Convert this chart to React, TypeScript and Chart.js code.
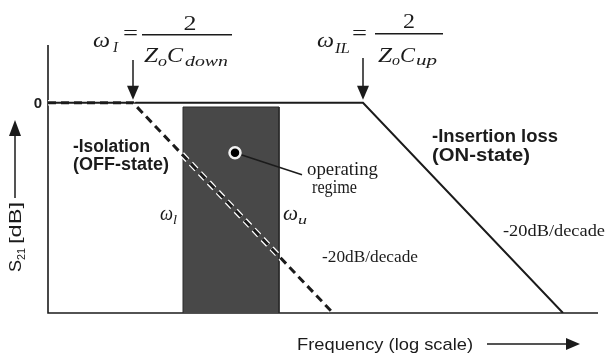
import React, { useEffect, useRef } from "react";
import { Chart, registerables } from "chart.js";

Chart.register(...registerables);

// Axis extents: x in decades of frequency (log scale), y in dB
const X_MIN = 0;
const X_MAX = 5.5;
const Y_MIN = -40;
const Y_MAX = 11;

// Isolation (OFF-state): flat at 0 dB up to ωI, then -20 dB/decade
const isolationX = [0, 0.85, 2.85];
const isolationDb = [0, 0, -40];

// Insertion loss (ON-state): flat at 0 dB up to ωIL, then -20 dB/decade
const insertionX = [0, 3.15, 5.15];
const insertionDb = [0, 0, -40];

// Operating regime band between ωl and ωu
const regimeX = [1.35, 1.35, 2.31, 2.31];
const regimeDb = [-40, -0.8, -0.8, -40];

// Operating point marker and its leader line towards the label
const markerX = [1.87];
const markerDb = [-9.5];
const leaderX = [1.87, 2.54];
const leaderDb = [-9.5, -13.7];

const SERIF = "'Liberation Serif', 'DejaVu Serif', serif";
const SANS = "'Liberation Sans', Arial, sans-serif";
const INK = "#1b1b1b";

const pts = (xs: number[], ys: number[]) => xs.map((x, i) => ({ x, y: ys[i] }));

function put(
  ctx: CanvasRenderingContext2D,
  text: string,
  x: number,
  y: number,
  font: string,
  width?: number,
  align: "left" | "center" | "right" = "left"
) {
  ctx.font = font;
  ctx.textAlign = "left";
  ctx.textBaseline = "alphabetic";
  const m = ctx.measureText(text).width;
  const sx = width ? width / m : 1;
  const w = m * sx;
  const left = align === "center" ? x - w / 2 : align === "right" ? x - w : x;
  ctx.save();
  ctx.translate(left, y);
  ctx.scale(sx, 1);
  ctx.fillText(text, 0, 0);
  ctx.restore();
}

function arrowDown(ctx: CanvasRenderingContext2D, x: number, y0: number, tip: number) {
  ctx.beginPath();
  ctx.moveTo(x, y0);
  ctx.lineTo(x, tip - 12);
  ctx.stroke();
  ctx.beginPath();
  ctx.moveTo(x - 6, tip - 14);
  ctx.lineTo(x + 6, tip - 14);
  ctx.lineTo(x, tip);
  ctx.closePath();
  ctx.fill();
}

const annotate = {
  id: "annotate",
  beforeDatasetsDraw(chart: any) {
    const { ctx, chartArea } = chart;
    ctx.save();
    ctx.strokeStyle = INK;
    ctx.lineWidth = 1.6;
    ctx.beginPath();
    ctx.moveTo(chartArea.left, chartArea.top);
    ctx.lineTo(chartArea.left, chartArea.bottom);
    ctx.lineTo(chartArea.right, chartArea.bottom);
    ctx.stroke();
    ctx.restore();
  },
  afterDatasetsDraw(chart: any) {
    const { ctx, chartArea } = chart;
    const xs = chart.scales.x;
    const ys = chart.scales.y;
    const zeroY = ys.getPixelForValue(0);
    const a1 = xs.getPixelForValue(isolationX[1]);
    const a2 = xs.getPixelForValue(insertionX[1]);
    const wl = xs.getPixelForValue(regimeX[0]);
    const wu = xs.getPixelForValue(regimeX[2]);
    ctx.save();
    ctx.fillStyle = INK;
    ctx.strokeStyle = INK;

    // corner-frequency arrows
    ctx.lineWidth = 1.5;
    arrowDown(ctx, a1, 60, zeroY - 3);
    arrowDown(ctx, a2, 58, zeroY - 3);

    // ωI = 2 / (Zo Cdown)
    put(ctx, "ω", a1 - 40, 47, `italic 22px ${SERIF}`, 17);
    put(ctx, "I", a1 - 20, 52, `italic 14px ${SERIF}`, 5);
    ctx.font = `20px ${SERIF}`;
    ctx.textBaseline = "middle";
    put(ctx, "=", a1 - 10, 40, `20px ${SERIF}`, 15);
    ctx.fillRect(a1 + 9, 34, 90, 1.5);
    put(ctx, "2", a1 + 57, 30, `20px ${SERIF}`, 13, "center");
    put(ctx, "Z", a1 + 11, 62, `italic 20px ${SERIF}`, 14);
    put(ctx, "o", a1 + 25, 66, `italic 15px ${SERIF}`, 9);
    put(ctx, "C", a1 + 34, 62, `italic 20px ${SERIF}`, 16);
    put(ctx, "down", a1 + 52, 66, `italic 15px ${SERIF}`, 43);

    // ωIL = 2 / (Zo Cup)
    put(ctx, "ω", a2 - 46, 47, `italic 22px ${SERIF}`, 17);
    put(ctx, "IL", a2 - 28, 53, `italic 14px ${SERIF}`, 15);
    put(ctx, "=", a2 - 11, 40, `20px ${SERIF}`, 15);
    ctx.fillRect(a2 + 12, 33, 68, 1.5);
    put(ctx, "2", a2 + 46, 28, `20px ${SERIF}`, 12, "center");
    put(ctx, "Z", a2 + 15, 62, `italic 20px ${SERIF}`, 14);
    put(ctx, "o", a2 + 29, 65, `italic 15px ${SERIF}`, 8);
    put(ctx, "C", a2 + 37, 62, `italic 20px ${SERIF}`, 15);
    put(ctx, "up", a2 + 53, 65, `italic 15px ${SERIF}`, 21);

    // 0 dB tick label
    put(ctx, "0", chartArea.left - 6, zeroY + 5.5, `bold 15px ${SANS}`, undefined, "right");

    // y-axis title with upward arrow
    ctx.save();
    ctx.translate(21, 236);
    ctx.rotate(-Math.PI / 2);
    put(ctx, "S", -36, 0, `17px ${SANS}`, 12);
    put(ctx, "21", -24, 4, `11px ${SANS}`, 12);
    put(ctx, "[dB]", -8, 0, `17px ${SANS}`, 42);
    ctx.restore();
    ctx.lineWidth = 1.5;
    ctx.beginPath();
    ctx.moveTo(15, 198);
    ctx.lineTo(15, 133);
    ctx.stroke();
    ctx.beginPath();
    ctx.moveTo(9, 136);
    ctx.lineTo(21, 136);
    ctx.lineTo(15, 120);
    ctx.closePath();
    ctx.fill();

    // curve labels
    put(ctx, "-Isolation", 73, 152, `bold 18px ${SANS}`, 77);
    put(ctx, "(OFF-state)", 73, 170, `bold 18px ${SANS}`, 96);
    put(ctx, "-Insertion loss", 432, 142, `bold 18px ${SANS}`, 126);
    put(ctx, "(ON-state)", 432, 161, `bold 18px ${SANS}`, 98);

    // band edges
    put(ctx, "ω", wl - 23, 220, `italic 20px ${SERIF}`, 13);
    put(ctx, "l", wl - 10, 224, `italic 12px ${SERIF}`, 4);
    put(ctx, "ω", wu + 4, 220, `italic 20px ${SERIF}`, 15);
    put(ctx, "u", wu + 19, 224, `italic 12px ${SERIF}`, 9);

    put(ctx, "operating", 307, 175, `18px ${SERIF}`, 71);
    put(ctx, "regime", 312, 193, `18px ${SERIF}`, 45);

    put(ctx, "-20dB/decade", 503, 236, `17px ${SERIF}`, 102);
    put(ctx, "-20dB/decade", 322, 262, `17px ${SERIF}`, 96);

    // x-axis title with arrow
    put(ctx, "Frequency (log scale)", 297, 350, `17px ${SANS}`, 176);
    ctx.lineWidth = 1.5;
    ctx.beginPath();
    ctx.moveTo(487, 344);
    ctx.lineTo(568, 344);
    ctx.stroke();
    ctx.beginPath();
    ctx.moveTo(566, 338);
    ctx.lineTo(566, 350);
    ctx.lineTo(580, 344);
    ctx.closePath();
    ctx.fill();

    ctx.restore();
  },
};

export default function App() {
  const ref = useRef<HTMLCanvasElement | null>(null);

  useEffect(() => {
    document.body.style.margin = "0";
    const canvas = ref.current;
    if (!canvas) return;
    const dashed = { borderDash: [8, 5], borderCapStyle: "butt" as const };
    const chart = new Chart(canvas, {
      type: "scatter",
      data: {
        datasets: [
          {
            label: "operating regime",
            data: pts(regimeX, regimeDb),
            showLine: true,
            fill: "start",
            backgroundColor: "#484848",
            borderColor: "#2a2a2a",
            borderWidth: 1,
            pointRadius: 0,
            tension: 0,
            order: 6,
          },
          {
            label: "Insertion loss (ON-state)",
            data: pts(insertionX, insertionDb),
            showLine: true,
            borderColor: INK,
            borderWidth: 2,
            pointRadius: 0,
            tension: 0,
            order: 5,
          },
          {
            label: "isolation halo",
            data: pts(isolationX, isolationDb),
            showLine: true,
            borderColor: "#ffffff",
            borderWidth: 5.5,
            ...dashed,
            pointRadius: 0,
            tension: 0,
            order: 4,
          },
          {
            label: "Isolation (OFF-state)",
            data: pts(isolationX, isolationDb),
            showLine: true,
            borderColor: INK,
            borderWidth: 3,
            ...dashed,
            pointRadius: 0,
            tension: 0,
            order: 3,
          },
          {
            label: "leader",
            data: pts(leaderX, leaderDb),
            showLine: true,
            borderColor: INK,
            borderWidth: 1.5,
            pointRadius: 0,
            order: 2,
          },
          {
            label: "operating point",
            data: pts(markerX, markerDb),
            pointRadius: 5.5,
            pointBackgroundColor: "#000000",
            pointBorderColor: "#f2f2f2",
            pointBorderWidth: 2.5,
            order: 1,
          },
        ],
      },
      options: {
        responsive: false,
        animation: false,
        events: [],
        layout: { padding: { left: 48, right: 9, top: 45, bottom: 45 } },
        plugins: {
          legend: { display: false },
          tooltip: { enabled: false },
        },
        scales: {
          x: { type: "linear", min: X_MIN, max: X_MAX, display: false },
          y: { type: "linear", min: Y_MIN, max: Y_MAX, display: false },
        },
      },
      plugins: [annotate],
    });
    return () => chart.destroy();
  }, []);

  return (
    <div style={{ position: "absolute", left: 0, top: 0, width: 607, height: 358, background: "#fff" }}>
      <canvas ref={ref} width={607} height={358} />
    </div>
  );
}
